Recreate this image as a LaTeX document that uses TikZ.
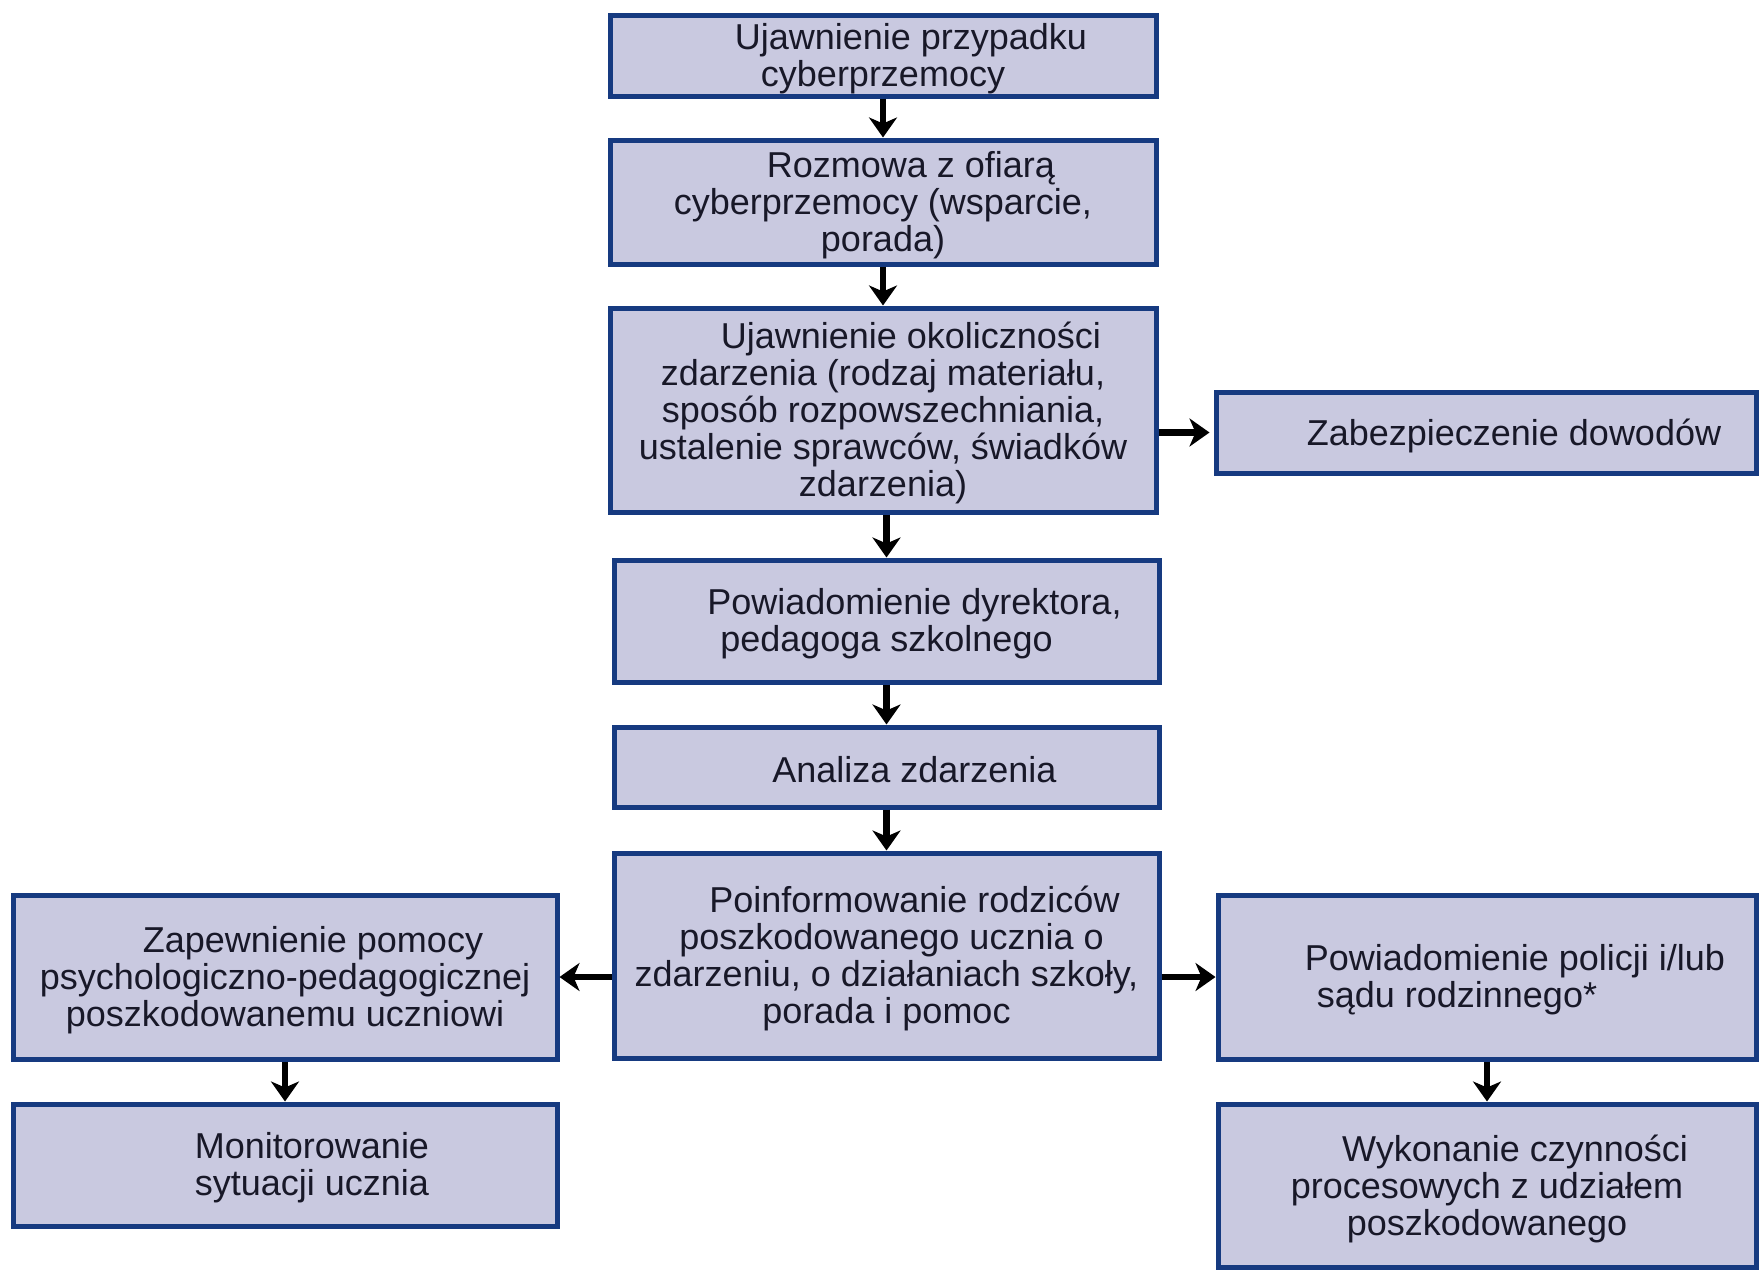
\documentclass[tikz,border=0pt]{standalone}
\usepackage{fontspec}
\setmainfont{Liberation Sans}
\usetikzlibrary{arrows.meta}
\definecolor{boxfill}{RGB}{201,201,224}
\definecolor{boxline}{RGB}{22,58,128}
\definecolor{txt}{RGB}{24,24,40}
\newcommand\mybox[6]{%
  \node[flowbox, minimum width={(#4-#2)*0.5pt}, minimum height={(#5-#3)*0.5pt}] (#1) at ({(#2+#4)/2},{(#3+#5)/2}) {};
  \node[flowtext] (#1t) at ([yshift=-1.5pt]#1.center) {#6};}
\newcommand\ind{\hspace*{28pt}}
\begin{document}
\begin{tikzpicture}[x=0.5pt,y=-0.5pt,
  flowbox/.style={draw=boxline, fill=boxfill, line width=2.5pt, rectangle, inner sep=0pt},
  flowtext/.style={inner sep=0pt, align=center, text=txt, font=\fontsize{18pt}{18.5pt}\selectfont},
  flowarrow/.style={line width=3.2pt, black, -{Stealth[width=14pt,length=10pt,inset=3pt]}}]
\useasboundingbox (0,0) rectangle (1759,1269);
\fill[white] (0,0) rectangle (1759,1269);
\mybox{b1}{610}{15}{1156}{96}{\ind Ujawnienie przypadku\\cyberprzemocy}
\mybox{b2}{610}{140}{1156}{264}{\ind Rozmowa z ofiarą\\cyberprzemocy (wsparcie,\\porada)}
\mybox{b3}{610}{308}{1156}{512}{\ind Ujawnienie okoliczności\\zdarzenia (rodzaj materiału,\\sposób rozpowszechniania,\\ustalenie sprawców, świadków\\zdarzenia)}
\mybox{zab}{1216}{392}{1756}{473}{\ind Zabezpieczenie dowodów}
\mybox{b4}{614}{560}{1159}{682}{\ind Powiadomienie dyrektora,\\pedagoga szkolnego}
\mybox{b5}{614}{727}{1159}{807}{\ind Analiza zdarzenia}
\mybox{b6}{614}{853}{1159}{1058}{\ind Poinformowanie rodziców\\\hspace*{5pt}poszkodowanego ucznia o\\zdarzeniu, o działaniach szkoły,\\porada i pomoc}
\mybox{L}{13}{895}{557}{1059}{\ind Zapewnienie pomocy\\psychologiczno-pedagogicznej\\poszkodowanemu uczniowi}
\mybox{M}{13}{1104}{557}{1226}{\hspace*{27pt}Monitorowanie\\\hspace*{27pt}sytuacji ucznia}
\mybox{R}{1218}{895}{1756}{1059}{\ind Powiadomienie policji i/lub\\sądu rodzinnego*\hspace*{30pt}}
\mybox{W}{1218}{1104}{1756}{1267}{\ind Wykonanie czynności\\procesowych z udziałem\\poszkodowanego}
\draw[flowarrow] (b1.south) -- (b2.north);
\draw[flowarrow] (b2.south) -- (b3.north);
\draw[flowarrow] (b3.south -| b4.north) -- (b4.north);
\draw[flowarrow] (b4.south) -- (b5.north);
\draw[flowarrow] (b5.south) -- (b6.north);
\draw[flowarrow] (b3.east |- zab.west) -- ([xshift=-2pt]zab.west);
\draw[flowarrow] (b6.west |- L.east) -- (L.east);
\draw[flowarrow] (b6.east |- R.west) -- (R.west);
\draw[flowarrow] (L.south) -- (M.north);
\draw[flowarrow] (R.south) -- (W.north);
\end{tikzpicture}
\end{document}
